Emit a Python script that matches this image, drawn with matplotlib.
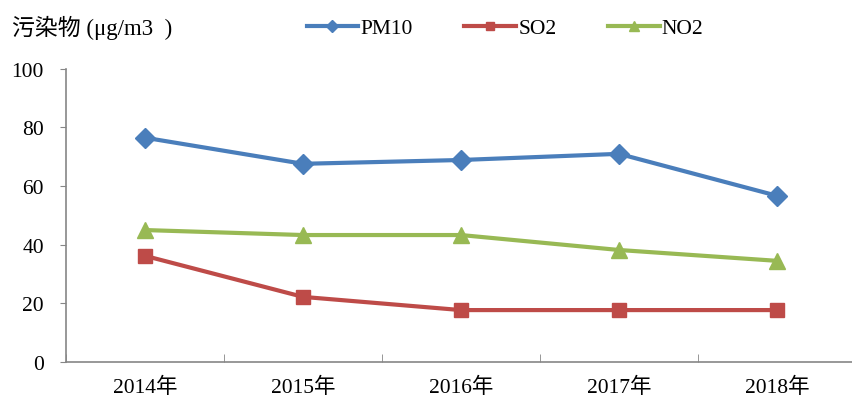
import matplotlib.pyplot as plt
import numpy as np

plt.rcParams['font.family'] = ['Liberation Serif', 'Noto Sans CJK SC']

years = ['2014年', '2015年', '2016年', '2017年', '2018年']
pm10 = [76.5, 67.6, 68.9, 71.0, 56.7]
so2 = [36.2, 22.2, 17.7, 17.7, 17.7]
no2 = [45.0, 43.3, 43.3, 38.2, 34.5]

fig = plt.figure(figsize=(8.53, 4.06), dpi=100)
ax = fig.add_axes([0.0774, 0.106, 0.926, 0.722])

x = np.arange(len(years))
ax.plot(x, pm10, color='#4A7EBB', lw=3, marker='D', ms=10, label='PM10')
ax.plot(x, so2, color='#BE4B48', lw=3, marker='s', ms=10, label='SO2')
ax.plot(x, no2, color='#98B954', lw=3, marker='^', ms=11, label='NO2')

ax.set_xlim(-0.5, 4.5)
ax.set_ylim(0, 100)
ax.set_yticks(range(0, 101, 20))
ax.set_xticks(x)
ax.set_xticklabels(years)
ax.set_xticks(np.arange(-0.5, 4.6, 1), minor=True)
ax.tick_params(axis='x', which='major', length=0, labelsize=15.5, pad=11)
ax.tick_params(axis='x', which='minor', direction='in', length=6, color='#868686')
ax.tick_params(axis='y', direction='out', length=4, color='#868686', labelsize=15.5, pad=12)

for s in ['top', 'right']:
    ax.spines[s].set_visible(False)
for s in ['left', 'bottom']:
    ax.spines[s].set_color('#868686')
    ax.spines[s].set_linewidth(1.2)

# unit label above the y axis
fig.text(0.014, 0.93, '污染物 (μg/m3  )', fontsize=16.5, va='center', ha='left')

fig.legend(loc='center', bbox_to_anchor=(0.592, 0.928), ncol=3, frameon=False,
           fontsize=15.5, handlelength=2.4, columnspacing=2.4, handletextpad=0.1,
           markerscale=0.6)

fig.savefig('out.png', dpi=100)
